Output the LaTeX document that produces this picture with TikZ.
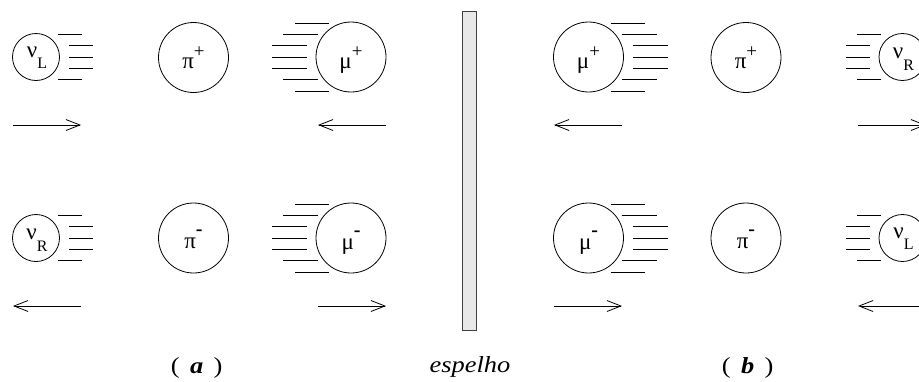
\documentclass[tikz,border=0pt]{standalone}
\usepackage{fontspec}
\setmainfont{Liberation Serif}
\newfontfamily\serifgr{Liberation Serif}
\newfontfamily\widefont[FakeStretch=1.15]{Liberation Serif}
\usetikzlibrary{arrows.meta}
\newcommand\chgup[1]{\raisebox{11pt}{\fontsize{19}{19}\selectfont #1}}
\newcommand\chgdn[1]{\raisebox{-11.5pt}{\fontsize{16}{16}\selectfont #1}}
\newcommand\chgminus{\raisebox{13pt}{\fontsize{20}{20}\selectfont\textbf{-}}}
\begin{document}
\begin{tikzpicture}[x=1pt,y=-1pt,
  particle/.style={circle,draw,line width=0.8pt,inner sep=0pt},
  nusize/.style={minimum size=47pt},
  bigsize/.style={minimum size=70pt},
  greek/.style={font=\serifgr\fontsize{23}{23}\selectfont,inner sep=0pt,anchor=base},
  speed/.style={line width=0.8pt},
  motion/.style={line width=0.8pt,-{Straight Barb[length=14pt,width=11pt]}},
  caption/.style={font=\widefont\fontsize{23}{23}\selectfont,inner sep=0pt,anchor=base}]
\useasboundingbox (0,0) rectangle (919,381);

% ---------- mirror ----------
\node[draw=black!75,fill=black!9,line width=0.8pt,minimum width=14pt,minimum height=319pt,inner sep=0pt] (mirror) at (469.7,170.5) {};
\node[caption] (esp) at (470,372) {\itshape espelho};
\node[caption] (capa) at (196.7,373) {(\hspace{0.45em}\textbf{\textit{a}}\hspace{0.45em})};
\node[caption] (capb) at (747.7,373) {(\hspace{0.45em}\textbf{\textit{b}}\hspace{0.45em})};

% ---------- particles (left, a) ----------
\node[particle,nusize] (nuA1) at (36,57) {};
\node[greek] (nuA1t) at ([xshift=1pt]nuA1.center) {ν\chgdn{L}};
\node[particle,bigsize] (piA1) at (193.5,57.5) {};
\node[greek] (piA1t) at ([yshift=-10.5pt]piA1.center) {π\chgup{+}};
\node[particle,bigsize] (muA1) at (351,57) {};
\node[greek] (muA1t) at ([yshift=-11pt]muA1.center) {μ\chgup{+}};

\node[particle,nusize] (nuA2) at (36,238) {};
\node[greek] (nuA2t) at ([xshift=1pt,yshift=-1.5pt]nuA2.center) {ν\chgdn{R}};
\node[particle,bigsize] (piA2) at (193.5,238) {};
\node[greek] (piA2t) at ([yshift=-10.5pt]piA2.center) {π\chgminus};
\node[particle,bigsize] (muA2) at (351,238) {};
\node[greek] (muA2t) at ([yshift=-11.5pt]muA2.center) {μ\chgminus};

% ---------- particles (right, b) ----------
\node[particle,bigsize] (muB1) at (588.5,57) {};
\node[greek] (muB1t) at ([yshift=-11pt]muB1.center) {μ\chgup{+}};
\node[particle,bigsize] (piB1) at (746,57.5) {};
\node[greek] (piB1t) at ([yshift=-10.5pt]piB1.center) {π\chgup{+}};
\node[particle,nusize] (nuB1) at (902.5,57) {};
\node[greek] (nuB1t) at ([xshift=1pt,yshift=-1.5pt]nuB1.center) {ν\chgdn{R}};

\node[particle,bigsize] (muB2) at (588.5,238) {};
\node[greek] (muB2t) at ([yshift=-11.5pt]muB2.center) {μ\chgminus};
\node[particle,bigsize] (piB2) at (746,238) {};
\node[greek] (piB2t) at ([yshift=-10.5pt]piB2.center) {π\chgminus};
\node[particle,nusize] (nuB2) at (902.5,238) {};
\node[greek] (nuB2t) at ([xshift=1pt]nuB2.center) {ν\chgdn{L}};

% ---------- speed lines ----------
\foreach \n/\s in {nuA1/1,nuA2/1,nuB1/-1,nuB2/-1}{
  \foreach \dy/\a/\b in {-22.5/22/46,-11.3/33/57,0/33/57,11.3/33/57,22.5/22/46}{
    \draw[speed] ([shift={({\s*\a},\dy)}]\n.center) -- ([shift={({\s*\b},\dy)}]\n.center);
  }
}
\foreach \n/\s in {muA1/-1,muA2/-1,muB1/1,muB2/1}{
  \foreach \dy/\a/\b in {-34/22/56,-22.7/33/68,-11.3/44/79,0/44/79,11.3/44/79,22.7/33/68,34/22/56}{
    \draw[speed] ([shift={({\s*\a},\dy)}]\n.center) -- ([shift={({\s*\b},\dy)}]\n.center);
  }
}

% ---------- motion arrows ----------
\coordinate (ta1) at (13,125);  \coordinate (ta2) at (81,125);
\coordinate (ta3) at (318,125); \coordinate (ta4) at (386,125);
\coordinate (tb1) at (554,125); \coordinate (tb2) at (622,125);
\coordinate (tb3) at (858,125); \coordinate (tb4) at (926,125);
\coordinate (ba1) at (13,306);  \coordinate (ba2) at (81,306);
\coordinate (ba3) at (318,306); \coordinate (ba4) at (386,306);
\coordinate (bb1) at (554,306); \coordinate (bb2) at (622,306);
\coordinate (bb3) at (858,306); \coordinate (bb4) at (926,306);

\draw[motion] (ta1) -- (ta2);
\draw[motion] (ta4) -- (ta3);
\draw[motion] (tb2) -- (tb1);
\draw[motion] (tb3) -- (tb4);
\draw[motion] (ba2) -- (ba1);
\draw[motion] (ba3) -- (ba4);
\draw[motion] (bb1) -- (bb2);
\draw[motion] (bb4) -- (bb3);
\end{tikzpicture}
\end{document}
